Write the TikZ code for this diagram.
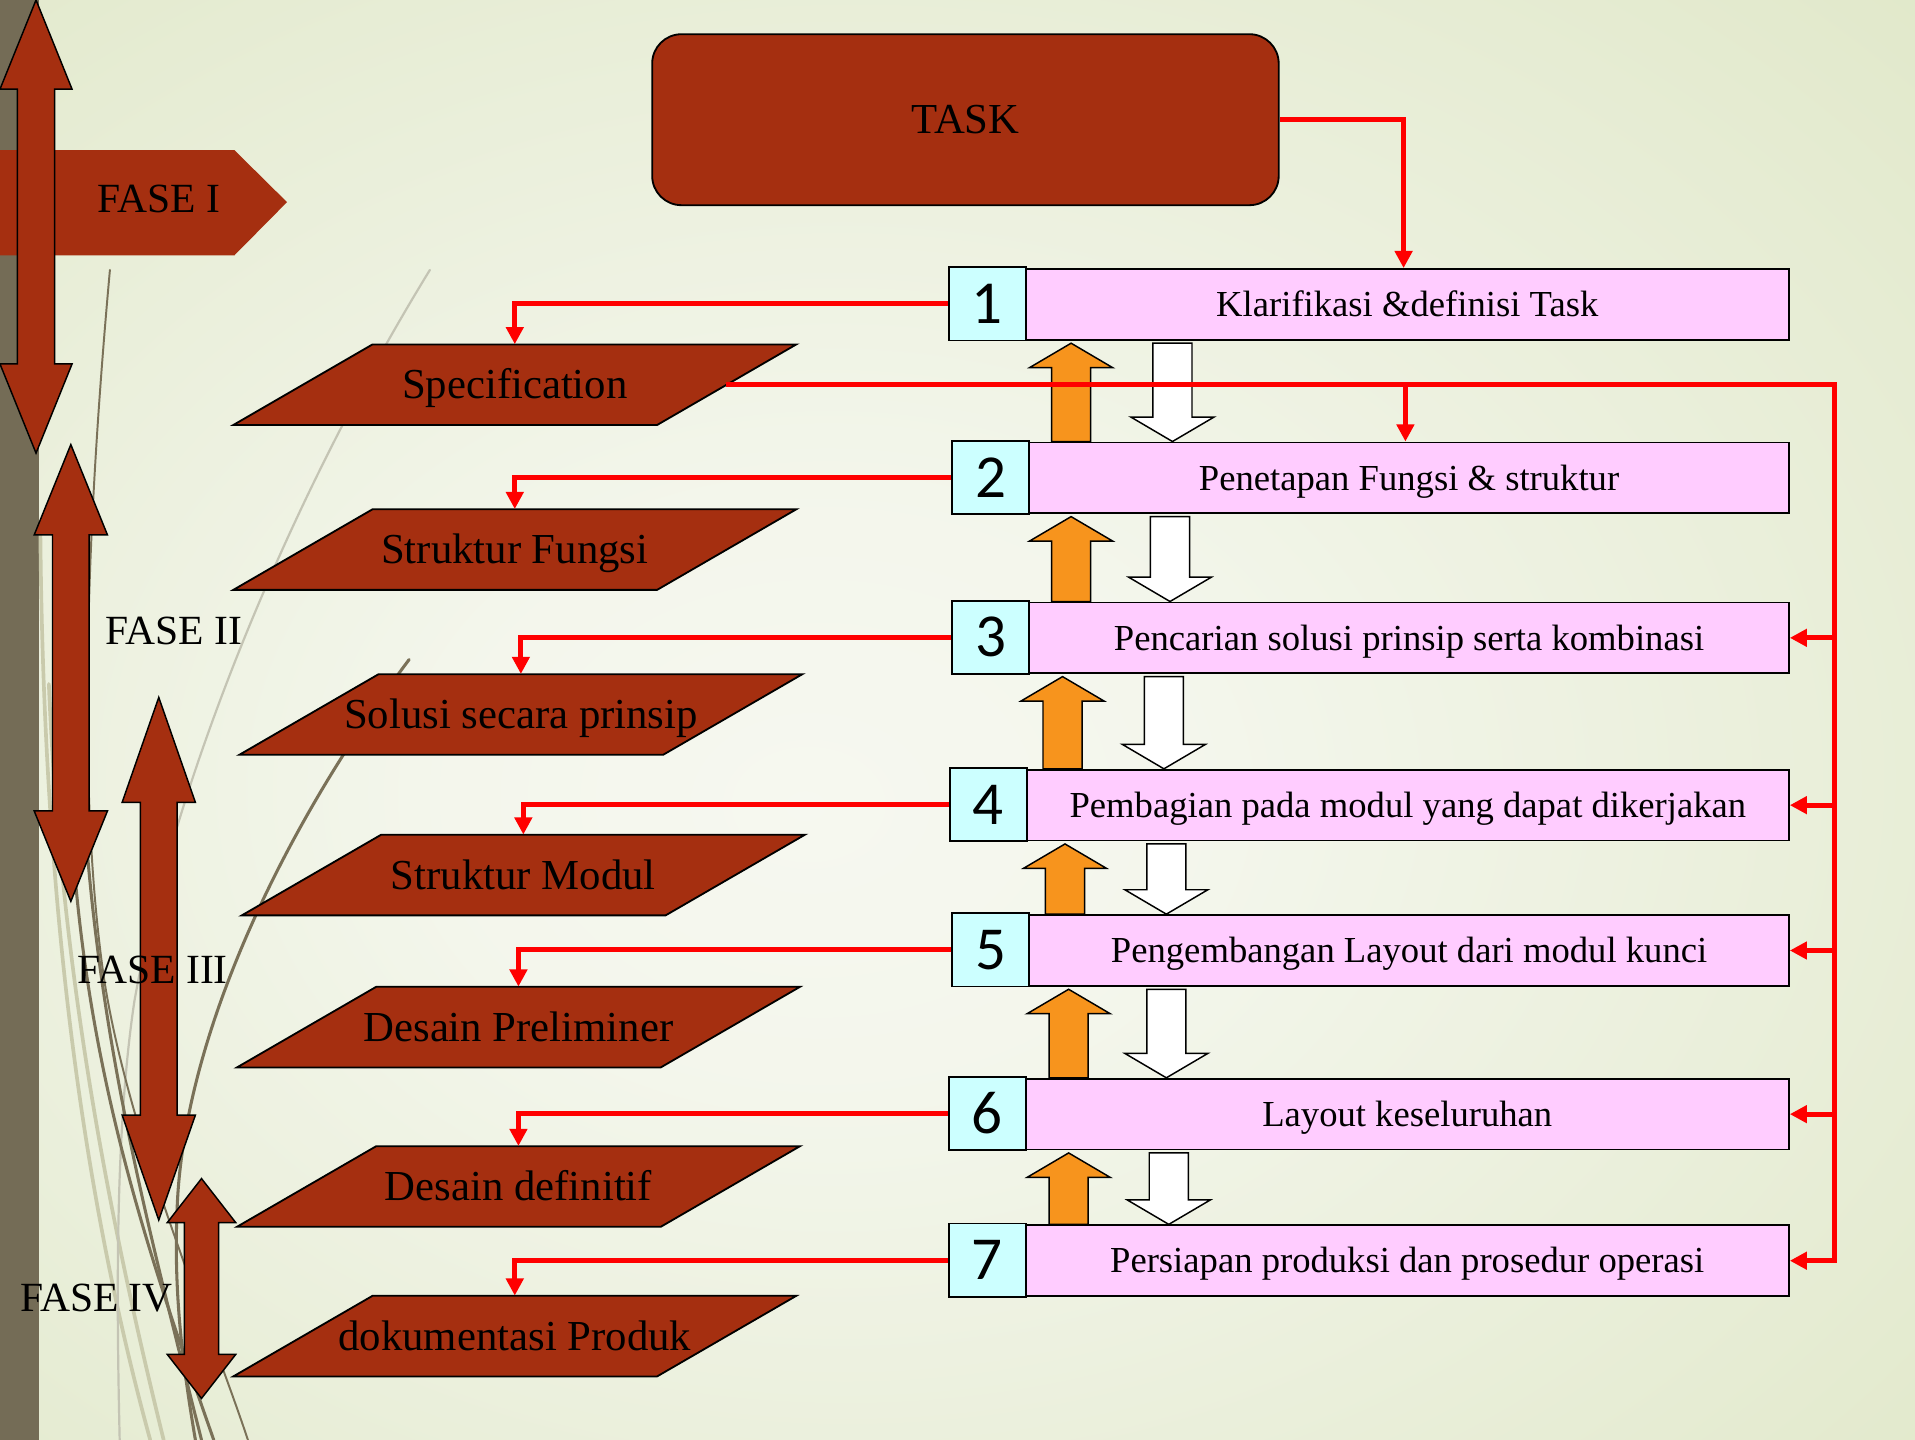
\documentclass[tikz,border=0pt]{standalone}
\usepackage{fontspec}
\setmainfont{Liberation Serif}
\newfontfamily\digitfont{Carlito}
\usetikzlibrary{arrows.meta,calc}

\definecolor{rust}{RGB}{165,47,16}
\definecolor{stripcol}{RGB}{116,108,86}
\definecolor{pinkbox}{RGB}{255,204,255}
\definecolor{cyanbox}{RGB}{204,255,255}
\definecolor{orangearrow}{RGB}{247,148,29}
\definecolor{curvedark}{RGB}{122,113,88}
\definecolor{curvelight}{RGB}{201,202,172}
\definecolor{curvegray}{RGB}{196,196,180}

% soft paper-like background, lighter towards the middle
\pgfdeclareradialshading{paper}{\pgfpoint{-4bp}{-3bp}}{%
  rgb(0bp)=(0.965,0.972,0.94);
  rgb(10bp)=(0.955,0.965,0.925);
  rgb(40bp)=(0.878,0.908,0.785);
  rgb(80bp)=(0.86,0.895,0.76)}

% vertical double-headed block arrow: cx, top, bottom, head half width, shaft half width, head length
\newcommand{\phasearrow}[6]{%
  \filldraw[phase] (#1,#2) -- ({#1+#4},{#2+#6}) -- ({#1+#5},{#2+#6}) -- ({#1+#5},{#3-#6})
    -- ({#1+#4},{#3-#6}) -- (#1,#3) -- ({#1-#4},{#3-#6}) -- ({#1-#5},{#3-#6})
    -- ({#1-#5},{#2+#6}) -- ({#1-#4},{#2+#6}) -- cycle;}

% slanted output box with its label: name, cx, cy, text
\newcommand{\outputbox}[4]{%
  \filldraw[outshape] ({#2-116.5},{#3-33}) -- ({#2+230.5},{#3-33})
    -- ({#2+116.5},{#3+33}) -- ({#2-230.5},{#3+33}) -- cycle;
  \node[outtext] (#1) at (#2,#3) {#4};}

% orange feedback arrow (upwards) between two steps: x, upper step, lower step
\newcommand{\uparr}[3]{%
  \path[orangeblock] let \p1=(#2.south), \p2=(#3.north) in
    (#1pt,\y1-2pt) -- (#1pt+34pt,\y1-22pt) -- (#1pt+16pt,\y1-22pt) -- (#1pt+16pt,\y2)
    -- (#1pt-16pt,\y2) -- (#1pt-16pt,\y1-22pt) -- (#1pt-34pt,\y1-22pt) -- cycle;}

% white flow arrow (downwards) between two steps: x, upper step, lower step
\newcommand{\downarr}[3]{%
  \path[whiteblock] let \p1=(#2.south), \p2=(#3.north) in
    (#1pt-16pt,\y1-2pt) -- (#1pt+16pt,\y1-2pt) -- (#1pt+16pt,\y2+20pt) -- (#1pt+34pt,\y2+20pt)
    -- (#1pt,\y2) -- (#1pt-34pt,\y2+20pt) -- (#1pt-16pt,\y2+20pt) -- cycle;}

\begin{document}
\begin{tikzpicture}[x=1pt,y=-1pt,
  taskbox/.style={draw=black, line width=1.5pt, fill=rust, rounded corners=24pt,
    minimum width=513pt, minimum height=140pt, inner sep=0pt,
    font=\fontsize{35}{35}\selectfont, text height=23pt, text depth=0pt},
  stepbox/.style={draw=black, line width=1.5pt, fill=pinkbox, minimum height=58pt,
    anchor=north west, inner sep=0pt, font=\fontsize{30}{30}\selectfont,
    text height=20pt, text depth=0pt},
  numbox/.style={draw=black, line width=1.5pt, fill=cyanbox, minimum width=63pt,
    minimum height=60pt, anchor=north west, inner sep=0pt,
    font=\digitfont\fontsize{50}{50}\selectfont},
  outtext/.style={minimum width=346pt, minimum height=66pt, inner sep=0pt,
    font=\fontsize{35}{35}\selectfont, text height=23pt, text depth=0pt},
  outshape/.style={fill=rust, draw=black, line width=1.5pt, line join=miter},
  phase/.style={fill=rust, draw=black, line width=1.2pt},
  fasetext/.style={inner sep=0pt, font=\fontsize{34}{34}\selectfont},
  orangeblock/.style={fill=orangearrow, draw=black, line width=1.2pt},
  whiteblock/.style={fill=white, draw=black, line width=1.2pt},
  redline/.style={draw=red, line width=4pt},
  redtip/.style={-{Triangle[length=14pt,width=14pt]}},
  decor/.style={line cap=round}]

\useasboundingbox (0,0) rectangle (1568,1179);
\shade[shading=paper] (0,0) rectangle (1568,1179);

% dark strip along the left edge
\fill[stripcol] (0,0) rectangle (32,1179);

% sweeping decorative lines
\draw[decor, curvelight, line width=3pt] (33,430) .. controls (35,700) and (60,950) .. (123,1179);
\draw[decor, curvelight, line width=3pt] (40,560) .. controls (50,800) and (90,1000) .. (134,1179);
\draw[decor, curvegray, line width=1.8pt] (352,221) .. controls (230,420) and (140,650) .. (110,820)
  .. controls (95,920) and (95,1050) .. (98,1179);
\draw[decor, curvedark, line width=1.6pt] (90,221) .. controls (72,420) and (62,640) .. (85,800)
  .. controls (105,930) and (170,1080) .. (203,1179);
\draw[decor, curvedark, line width=2.5pt] (68,650) .. controls (80,850) and (120,1000) .. (165,1179);
\draw[decor, curvedark, line width=2.5pt] (60,700) .. controls (75,900) and (130,1050) .. (175,1179);
\draw[decor, curvedark, line width=2.5pt] (335,540) .. controls (230,680) and (150,850) .. (145,990)
  .. controls (142,1060) and (150,1120) .. (160,1179);

% phase I banner
\fill[rust] (0,123) -- (192,123) -- (235,165.5) -- (192,209) -- (0,209) -- cycle;

% phase arrows
\phasearrow{29.5}{0}{371}{29.5}{15.2}{73}
\phasearrow{58}{364}{738}{30}{15}{74}
\phasearrow{130}{571}{999}{30}{15}{86}
\phasearrow{165}{965}{1145}{28}{14}{36}

% task
\node[taskbox] (task) at (790.5,98) {TASK};

% design steps
\foreach \k/\nx/\ny/\txt in {
  1/776/218/{Klarifikasi \&definisi Task},
  2/779/360/{Penetapan Fungsi \& struktur},
  3/779/491/{Pencarian solusi prinsip serta kombinasi},
  4/777/628/{Pembagian pada modul yang dapat dikerjakan},
  5/779/747/{Pengembangan Layout dari modul kunci},
  6/776/881/{Layout keseluruhan},
  7/776/1001/{Persiapan produksi dan prosedur operasi}}{
  \node[stepbox, minimum width={1464-\nx-63}] (s\k) at ({\nx+63},{\ny+1.5}) {\txt};
  \node[numbox] (n\k) at (\nx,\ny) {\k};
}

% results of the steps
\outputbox{p1}{421.5}{315}{Specification}
\outputbox{p2}{421.5}{450}{Struktur Fungsi}
\outputbox{p3}{426.5}{585}{Solusi secara prinsip}
\outputbox{p4}{428.5}{716.5}{Struktur Modul}
\outputbox{p5}{424.5}{841}{Desain Preliminer}
\outputbox{p6}{424.5}{971.5}{Desain definitif}
\outputbox{p7}{421.5}{1094}{dokumentasi Produk}

% forward and backward block arrows between the steps
\uparr{877}{s1}{s2} \downarr{960}{s1}{s2}
\uparr{877}{s2}{s3} \downarr{958}{s2}{s3}
\uparr{870}{s3}{s4} \downarr{953}{s3}{s4}
\uparr{872}{s4}{s5} \downarr{955}{s4}{s5}
\uparr{875}{s5}{s6} \downarr{955}{s5}{s6}
\uparr{875}{s6}{s7} \downarr{957}{s6}{s7}

% connectors
\coordinate (drop1) at ([xshift=-3pt]s1.north);
\coordinate (drop2) at ([xshift=-3pt]s2.north);
\draw[redline, redtip] (task.east) -| (drop1);
\foreach \k in {1,...,7}{
  \draw[redline, redtip] (n\k.west) -| (p\k.north);
}
\coordinate (bus) at (1502,315);
\draw[redline, redtip] (p1.east) -- (p1.east -| bus) -- (bus |- s7.east) -- (s7.east);
\foreach \k in {3,...,6}{
  \draw[redline, redtip] (bus |- s\k.east) -- (s\k.east);
}
\draw[redline, redtip] (drop2 |- p1.east) -- (drop2);

% phase labels
\node[fasetext] (f1) at (130,163) {FASE I};
\node[fasetext] (f2) at (142.5,517) {FASE II};
\node[fasetext] (f3) at (125,794) {FASE III};
\node[fasetext] (f4) at (79,1063) {FASE IV};
\end{tikzpicture}
\end{document}
